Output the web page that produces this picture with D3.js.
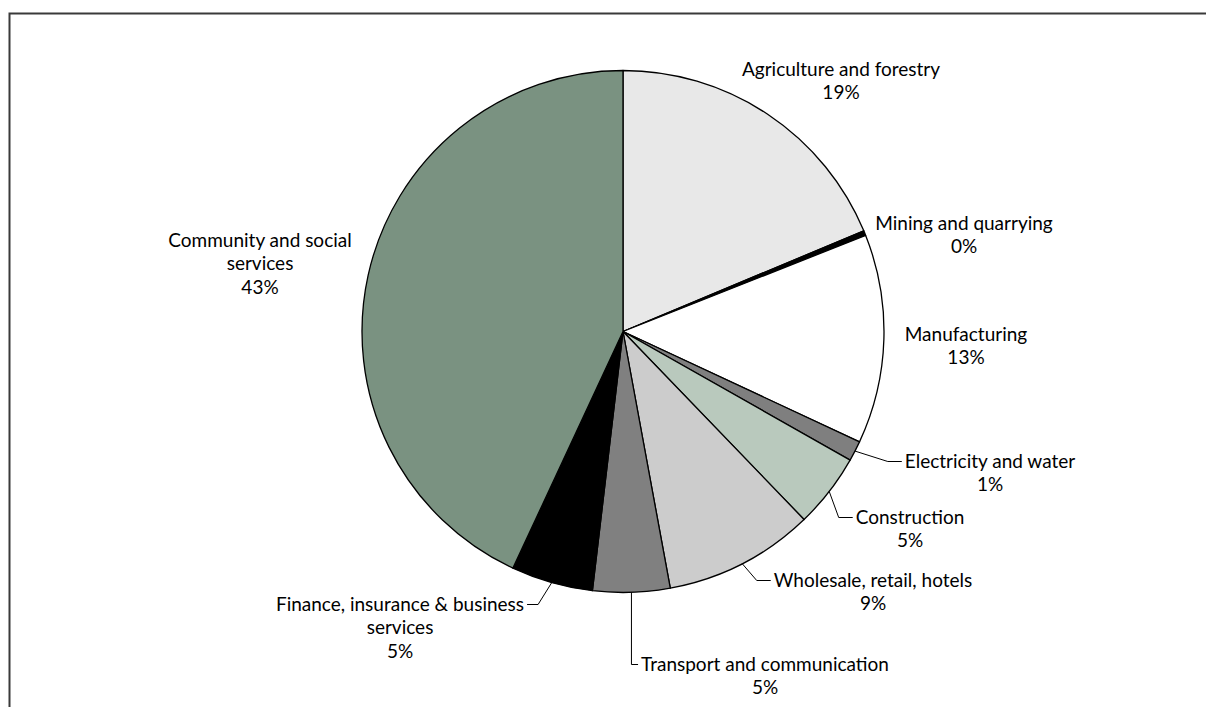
<!DOCTYPE html>
<html>
<head>
<meta charset="utf-8">
<script src="https://cdn.jsdelivr.net/npm/d3@7"></script>
<style>
  html, body { margin: 0; padding: 0; background: #ffffff; overflow: hidden; }
  svg { display: block; }
  text { font-family: "Lato", "Open Sans", sans-serif; fill: #000; }
</style>
</head>
<body>
<svg id="chart" width="1206" height="707"></svg>
<script>
// Employment share by sector (%), clockwise from 12 o'clock
const categories = [
  "Agriculture and forestry",
  "Mining and quarrying",
  "Manufacturing",
  "Electricity and water",
  "Construction",
  "Wholesale, retail, hotels",
  "Transport and communication",
  "Finance, insurance & business services",
  "Community and social services"
];
const values = [18.7, 0.3, 12.95, 1.25, 4.6, 9.3, 4.77, 5.06, 43.07];
const sliceColors = ["#e8e8e8", "#000000", "#ffffff", "#7f7f7f", "#b9c9bd",
                     "#cccccc", "#808080", "#000000", "#7a9281"];

// Label text broken into lines
const labelLines = [
  ["Agriculture and forestry"],
  ["Mining and quarrying"],
  ["Manufacturing"],
  ["Electricity and water"],
  ["Construction"],
  ["Wholesale, retail, hotels"],
  ["Transport and communication"],
  ["Finance, insurance & business", "services"],
  ["Community and social", "services"]
];
// Label block placement relative to the pie centre (centre x, first baseline y)
// and whether a leader line joins it to its slice
const labelLayout = [
  { dx: 218,  dy: -256, leader: false },
  { dx: 341,  dy: -102, leader: false },
  { dx: 343,  dy: 9,    leader: false },
  { dx: 367,  dy: 136,  leader: true },
  { dx: 287,  dy: 192,  leader: true },
  { dx: 250,  dy: 255,  leader: true },
  { dx: 142,  dy: 339,  leader: true },
  { dx: -223, dy: 279,  leader: true },
  { dx: -363, dy: -85,  leader: false }
];

const W = 1206, H = 707;
const cx = 623, cy = 331.5, R = 261;
const fontSize = 19, lineH = 23.5;

const svg = d3.select("#chart");

// Outer frame: only its top and left edges fall inside the drawing
svg.append("path")
  .attr("d", d3.line()([[9.5, H], [9.5, 13.5], [W, 13.5]]))
  .attr("fill", "none")
  .attr("stroke", "#3a3a3a")
  .attr("stroke-width", 2);

const data = categories.map((c, i) => ({ name: c, value: values[i], color: sliceColors[i], i }));

const pie = d3.pie().value(d => d.value).sort(null).startAngle(0).endAngle(2 * Math.PI);
const arcs = pie(data);
const arc = d3.arc().innerRadius(0).outerRadius(R);

const g = svg.append("g").attr("transform", `translate(${cx},${cy})`);

g.selectAll("path.slice")
  .data(arcs)
  .join("path")
  .attr("class", "slice")
  .attr("d", arc)
  .attr("fill", d => d.data.color)
  .attr("stroke", "#000")
  .attr("stroke-width", 1.3)
  .attr("stroke-linejoin", "round");

const pct = v => Math.round(v) + "%";

arcs.forEach((a, i) => {
  const lay = labelLayout[i];
  const lines = labelLines[i].concat([pct(a.data.value)]);
  const t = g.append("text")
    .attr("text-anchor", "middle")
    .attr("font-size", fontSize);
  lines.forEach((ln, k) => {
    t.append("tspan")
      .attr("x", lay.dx)
      .attr("y", lay.dy + k * lineH)
      .text(ln);
  });

  if (lay.leader) {
    const firstW = t.select("tspan").node().getComputedTextLength();
    const mid = (a.startAngle + a.endAngle) / 2;
    const ex = Math.sin(mid) * R, ey = -Math.cos(mid) * R;
    const ly = lay.dy - 6;
    const onRight = lay.dx > 0;
    const tx = onRight ? lay.dx - firstW / 2 - 3 : lay.dx + firstW / 2 + 3;
    const kx = onRight ? tx - 14 : tx + 11;
    // vertical leaders for labels directly below the slice
    const elbowX = Math.abs(ex) < 20 ? ex : kx;
    const pts = [[ex, ey], [elbowX, ly], [tx, ly]];
    g.append("path")
      .attr("d", d3.line()(pts))
      .attr("fill", "none")
      .attr("stroke", "#000")
      .attr("stroke-width", 1);
  }
});
</script>
</body>
</html>
